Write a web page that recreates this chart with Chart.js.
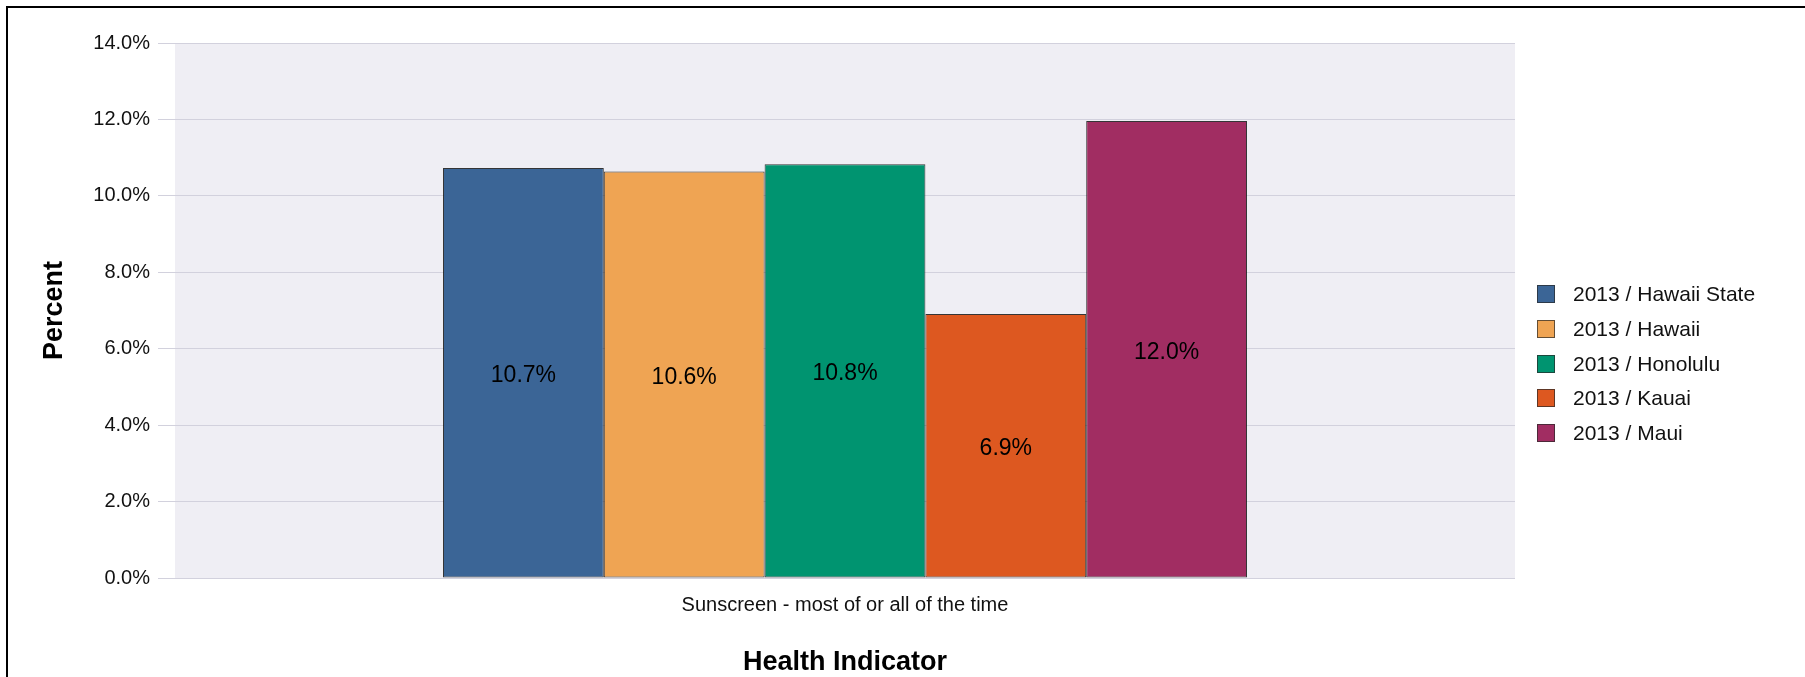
<!DOCTYPE html>
<html lang="en">
<head>
  <meta charset="UTF-8">
  <title>Sunscreen - Health Indicator</title>
  <script src="https://cdn.jsdelivr.net/npm/chart.js"></script>
  <style>
    body { margin: 0; background: #fff; font-family: "Liberation Sans", Arial, sans-serif; }
    #wrap { position: relative; width: 1805px; height: 677px; overflow: hidden; }
    #frame { position: absolute; left: 6px; top: 6px; width: 2000px; height: 800px;
             border-left: 2px solid #000; border-top: 2px solid #000; pointer-events: none; }
    #legend { position: absolute; left: 1537px; top: 277px; }
    .item { height: 34.7px; display: flex; align-items: center; font-size: 21px; color: #111; }
    .box { width: 16px; height: 16px; border: 1px solid rgba(40,40,40,0.7); margin-right: 18px; }
  </style>
</head>
<body>
  <div id="wrap">
    <canvas id="chart" width="1805" height="677"></canvas>
    <div id="frame"></div>
    <div id="legend"></div>
  </div>

  <script>
    const categories = ['Sunscreen - most of or all of the time'];
    const seriesNames = ['2013 / Hawaii State', '2013 / Hawaii', '2013 / Honolulu', '2013 / Kauai', '2013 / Maui'];
    const seriesValues = [[10.73], [10.64], [10.83], [6.91], [11.96]];
    const seriesColors = ['#3b6596', '#efa453', '#009470', '#dd5820', '#a12d62'];
    const yTicks = [0, 2, 4, 6, 8, 10, 12, 14];

    const FONT = '"Liberation Sans", Arial, sans-serif';

    // grey plot background, only inside the chart area
    const plotBg = {
      id: 'plotBg',
      beforeDraw(chart) {
        const a = chart.chartArea;
        const c = chart.ctx;
        c.save();
        c.fillStyle = '#efeef4';
        c.fillRect(a.left, a.top, a.right - a.left, a.bottom - a.top);
        c.restore();
      }
    };

    // value labels in the middle of each bar
    const barLabels = {
      id: 'barLabels',
      afterDatasetsDraw(chart) {
        const c = chart.ctx;
        c.save();
        c.font = '23px ' + FONT;
        c.fillStyle = '#000';
        c.textAlign = 'center';
        c.textBaseline = 'middle';
        chart.data.datasets.forEach((ds, i) => {
          chart.getDatasetMeta(i).data.forEach((bar, j) => {
            c.fillText(ds.data[j].toFixed(1) + '%', bar.x, (bar.y + bar.base) / 2 + 3);
          });
        });
        c.restore();
      }
    };

    const datasets = seriesNames.map((name, i) => ({
      label: name,
      data: seriesValues[i],
      backgroundColor: seriesColors[i],
      borderColor: 'rgba(20,20,20,0.85)',
      borderWidth: 1,
      borderSkipped: false,
      categoryPercentage: 0.6,
      barPercentage: 1.0
    }));

    const ctx = document.getElementById('chart').getContext('2d');
    new Chart(ctx, {
      type: 'bar',
      data: { labels: categories, datasets: datasets },
      options: {
        responsive: false,
        animation: false,
        events: [],
        layout: { padding: { left: 0, top: 43, right: 290, bottom: 0 } },
        plugins: {
          legend: { display: false },
          tooltip: { enabled: false }
        },
        scales: {
          x: {
            grid: { display: false, drawTicks: false },
            border: { display: false },
            ticks: { color: '#111', font: { family: FONT, size: 20 }, padding: 15 },
            title: { display: true, text: 'Health Indicator', color: '#000',
                     font: { family: FONT, size: 27, weight: 'bold', lineHeight: 1.05 }, padding: { top: 0, bottom: 0 } },
            afterFit(scale) { scale.height = 99; }
          },
          y: {
            min: 0,
            max: 14,
            afterBuildTicks(scale) { scale.ticks = yTicks.map(v => ({ value: v })); },
            grid: { color: '#d2d1dd', lineWidth: 1, tickLength: 17 },
            border: { display: false },
            ticks: {
              color: '#111',
              font: { family: FONT, size: 20 },
              padding: 8,
              callback: v => v.toFixed(1) + '%'
            },
            title: { display: true, text: 'Percent', color: '#000',
                     font: { family: FONT, size: 27, weight: 'bold' }, padding: { top: 38, bottom: 0 } },
            afterFit(scale) { scale.width = 175; }
          }
        }
      },
      plugins: [plotBg, barLabels]
    });

    // legend on the right, built from the series arrays
    const legend = document.getElementById('legend');
    seriesNames.forEach((name, i) => {
      const row = document.createElement('div');
      row.className = 'item';
      const box = document.createElement('div');
      box.className = 'box';
      box.style.background = seriesColors[i];
      const txt = document.createElement('span');
      txt.textContent = name;
      row.appendChild(box);
      row.appendChild(txt);
      legend.appendChild(row);
    });
  </script>
</body>
</html>
